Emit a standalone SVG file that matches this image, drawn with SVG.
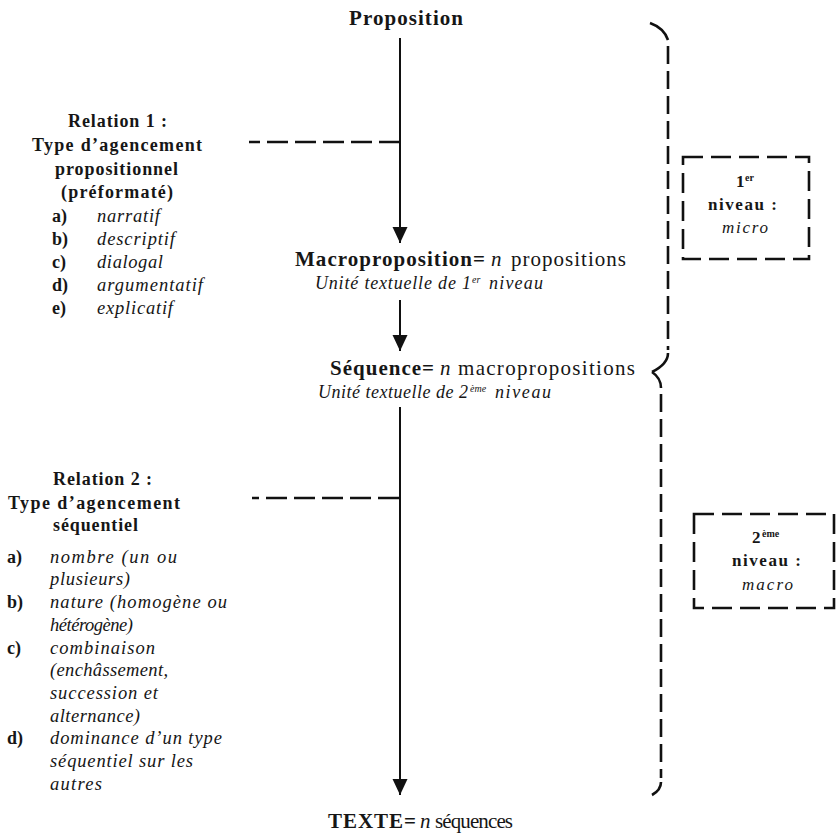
<svg xmlns="http://www.w3.org/2000/svg" width="836" height="838" viewBox="0 0 836 838">
<style>
text{font-family:"Liberation Serif","Times New Roman",serif;fill:#161616}
.b{font-weight:bold;font-size:18px}
.i{font-style:italic;font-size:18.5px}
.u{font-style:italic;font-size:18px}
.m{font-size:21px}
.mb{font-size:21px;font-weight:bold}
.mi{font-size:21px;font-style:italic}
.sup{font-size:10px}
.bx{font-weight:bold;font-size:17px}
.ix{font-style:italic;font-size:17px}
.arrow{stroke:#111;stroke-width:2;fill:none}
.dash{stroke:#111;stroke-width:2.6;fill:none;stroke-dasharray:21 7}
.brace{stroke:#111;stroke-width:2.6;fill:none;stroke-dasharray:18 7}
.curl{stroke:#111;stroke-width:2.6;fill:none}
.box{stroke:#111;stroke-width:2.6;fill:none;stroke-dasharray:20 8}
</style>
<defs>
<marker id="ah" markerUnits="userSpaceOnUse" markerWidth="16" markerHeight="16" refX="16" refY="7.5" orient="auto">
<path d="M0,0 L16,7.5 L0,15 z" fill="#111"/>
</marker>
</defs>
<rect width="836" height="838" fill="#fff"/>

<g id="node-proposition">
<text class="mb" x="349" y="25" textLength="114">Proposition</text>
</g>

<g id="node-macroproposition">
<text class="mb" x="295" y="266" textLength="190">Macroproposition=</text>
<text class="mi" x="491" y="266">n</text>
<text class="m" x="511" y="266" textLength="115">propositions</text>
<text class="u" x="315" y="289" textLength="156">Unité textuelle de 1</text>
<text class="u sup" x="472" y="283">er</text>
<text class="u" x="489" y="289" textLength="54">niveau</text>
</g>

<g id="node-sequence">
<text class="mb" x="330" y="375" textLength="104">Séquence=</text>
<text class="mi" x="440" y="375">n</text>
<text class="m" x="458" y="375" textLength="177">macropropositions</text>
<text class="u" x="318" y="398" textLength="150">Unité textuelle de 2</text>
<text class="u sup" x="470" y="392">ème</text>
<text class="u" x="495" y="398" textLength="56">niveau</text>
</g>

<g id="node-texte">
<text class="mb" x="328" y="828" textLength="88">TEXTE=</text>
<text class="mi" x="420" y="828">n</text>
<text class="m" x="435" y="828" textLength="78">séquences</text>
</g>

<g id="node-relation1">
<text class="b" x="68" y="127" textLength="99">Relation 1 :</text>
<text class="b" x="32" y="151" textLength="170">Type d’agencement</text>
<text class="b" x="55" y="175" textLength="123">propositionnel</text>
<text class="b" x="61" y="198" textLength="112">(préformaté)</text>
<text class="b" x="52" y="222">a)</text>
<text class="i" x="97" y="222" textLength="63">narratif</text>
<text class="b" x="52" y="245">b)</text>
<text class="i" x="97" y="245" textLength="78">descriptif</text>
<text class="b" x="52" y="268">c)</text>
<text class="i" x="97" y="268" textLength="66">dialogal</text>
<text class="b" x="52" y="291">d)</text>
<text class="i" x="97" y="291" textLength="106">argumentatif</text>
<text class="b" x="52" y="314">e)</text>
<text class="i" x="97" y="314" textLength="76">explicatif</text>
</g>

<g id="node-relation2">
<text class="b" x="53" y="485" textLength="99">Relation 2 :</text>
<text class="b" x="8" y="509" textLength="172">Type d’agencement</text>
<text class="b" x="53" y="531" textLength="85">séquentiel</text>
<text class="b" x="7" y="563">a)</text>
<text class="i" x="50" y="563" textLength="127">nombre (un ou</text>
<text class="i" x="50" y="585" textLength="80">plusieurs)</text>
<text class="b" x="7" y="608">b)</text>
<text class="i" x="50" y="608" textLength="177">nature (homogène ou</text>
<text class="i" x="50" y="631" textLength="83">hétérogène)</text>
<text class="b" x="7" y="654">c)</text>
<text class="i" x="50" y="654" textLength="105">combinaison</text>
<text class="i" x="50" y="676" textLength="118">(enchâssement,</text>
<text class="i" x="50" y="699" textLength="108">succession et</text>
<text class="i" x="50" y="722" textLength="90">alternance)</text>
<text class="b" x="7" y="744">d)</text>
<text class="i" x="50" y="744" textLength="172">dominance d’un type</text>
<text class="i" x="50" y="767" textLength="143">séquentiel sur les</text>
<text class="i" x="50" y="790" textLength="52">autres</text>
</g>

<g id="node-level1">
<rect class="box" x="683" y="157" width="126" height="102"/>
<text class="bx" x="736" y="187">1</text>
<text class="b sup" x="745" y="181">er</text>
<text class="bx" x="708" y="210" textLength="69">niveau :</text>
<text class="ix" x="722" y="233" textLength="46">micro</text>
</g>

<g id="node-level2">
<rect class="box" x="694" y="514" width="140" height="94"/>
<text class="bx" x="752" y="543">2</text>
<text class="b sup" x="762" y="537">ème</text>
<text class="bx" x="732" y="566" textLength="69">niveau :</text>
<text class="ix" x="742" y="590" textLength="51">macro</text>
</g>

<g id="node-brace1">
<path class="curl" d="M650,23 Q664,28 668,40"/>
<line class="brace" x1="668" y1="46" x2="668" y2="350"/>
<path class="curl" d="M668,353 Q668,364 652,372"/>
</g>

<g id="node-brace2">
<path class="curl" d="M652,372 Q661,378 661,388"/>
<line class="brace" x1="661" y1="394" x2="661" y2="778"/>
<path class="curl" d="M661,782 Q661,790 652,795"/>
</g>

<g id="connectors">
<line class="arrow" x1="400" y1="38" x2="400" y2="243" marker-end="url(#ah)"/>
<line class="arrow" x1="400" y1="300" x2="400" y2="351" marker-end="url(#ah)"/>
<line class="arrow" x1="400" y1="407" x2="400" y2="795" marker-end="url(#ah)"/>
<line class="dash" x1="400" y1="142" x2="249" y2="142"/>
<line class="dash" x1="399" y1="498" x2="252" y2="498"/>
</g>
</svg>
